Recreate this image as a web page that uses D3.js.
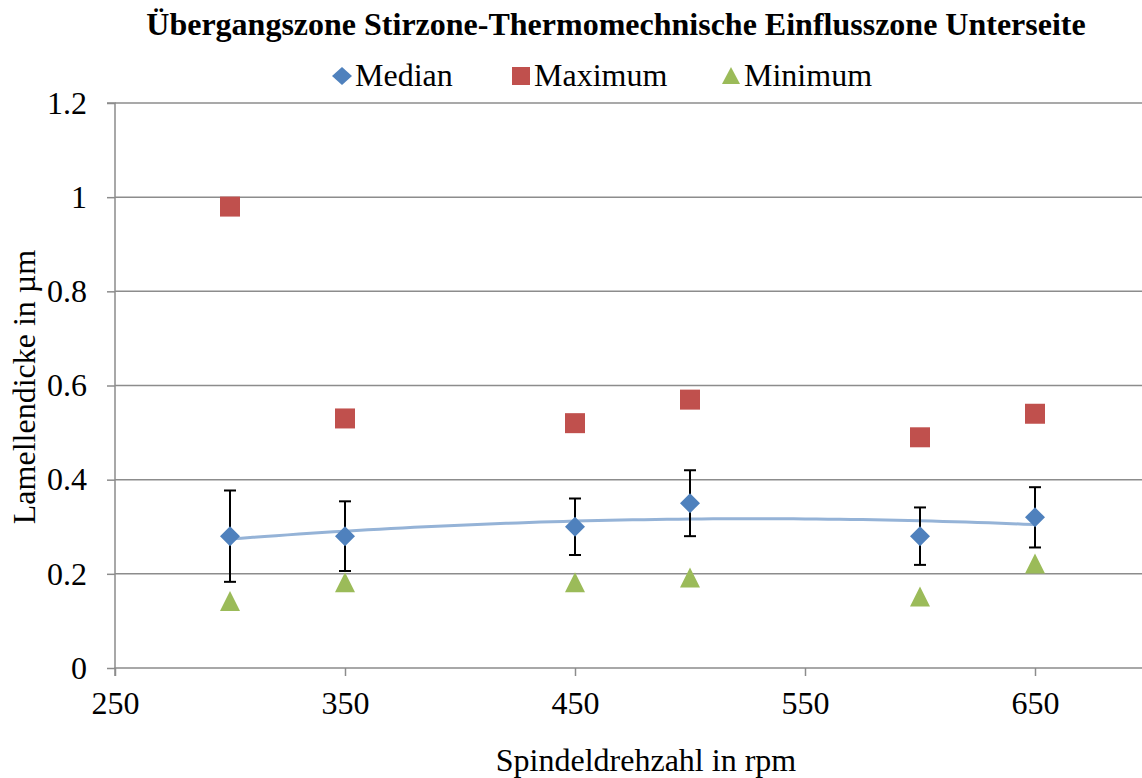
<!DOCTYPE html>
<html>
<head>
<meta charset="utf-8">
<script src="https://cdn.jsdelivr.net/npm/d3@7"></script>
<style>
  body { margin: 0; background: #fff; }
</style>
</head>
<body>
<svg class="svg-main" width="1142" height="778"></svg>
<script>
const rpm = [300, 350, 450, 500, 600, 650];
const median = [0.28, 0.28, 0.30, 0.35, 0.28, 0.32];
const errPlus = [0.097, 0.074, 0.06, 0.07, 0.061, 0.064];
const maximum = [0.98, 0.53, 0.52, 0.57, 0.49, 0.54];
const minimum = [0.14, 0.18, 0.18, 0.19, 0.15, 0.22];
const xTicks = [250, 350, 450, 550, 650];
const yTicks = [0, 0.2, 0.4, 0.6, 0.8, 1, 1.2];

const FONT = "Liberation Serif";
const svg = d3.select('.svg-main');

const x = d3.scaleLinear().domain([250, 700]).range([115, 1150]);
const y = d3.scaleLinear().domain([0, 1.2]).range([668, 103]);

// gridlines
svg.append("g")
  .selectAll("line")
  .data(yTicks.slice(1))
  .enter().append("line")
    .attr("x1", x(250)).attr("x2", x(700))
    .attr("y1", d => y(d)).attr("y2", d => y(d))
    .attr("stroke", "#8c8c8c").attr("stroke-width", 1.5);

// axes
const yAxis = svg.append("g")
  .attr("transform", `translate(${x(250)},0)`)
  .call(d3.axisLeft(y).tickValues(yTicks).tickSize(8).tickPadding(20)
    .tickFormat(d => String(d)));
const xAxis = svg.append("g")
  .attr("transform", `translate(0,${y(0)})`)
  .call(d3.axisBottom(x).tickValues(xTicks).tickSize(8).tickPadding(15)
    .tickFormat(d3.format("d")));

[yAxis, xAxis].forEach(a => {
  a.attr("font-family", FONT).attr("font-size", 32);
  a.select(".domain").attr("stroke", "#8c8c8c").attr("stroke-width", 1.5);
  a.selectAll(".tick line").attr("stroke", "#8c8c8c").attr("stroke-width", 1.5);
  a.selectAll("text").attr("fill", "#000");
});
xAxis.select(".domain").attr("d", `M${x(250)},8V0H${x(700)}`);
yAxis.select(".domain").attr("d", `M-8,${y(1.2)}H0V${y(0)}`);

// polynomial (order 2) trendline of median, least squares
function polyFit(xs, ys) {
  const n = xs.length;
  const s = k => d3.sum(xs, v => Math.pow(v, k));
  const t = k => d3.sum(xs, (v, i) => Math.pow(v, k) * ys[i]);
  const A = [[n, s(1), s(2)], [s(1), s(2), s(3)], [s(2), s(3), s(4)]];
  const b = [t(0), t(1), t(2)];
  for (let i = 0; i < 3; i++) {
    for (let j = i + 1; j < 3; j++) {
      const f = A[j][i] / A[i][i];
      for (let k = i; k < 3; k++) A[j][k] -= f * A[i][k];
      b[j] -= f * b[i];
    }
  }
  const c = [0, 0, 0];
  for (let i = 2; i >= 0; i--) {
    let sum = b[i];
    for (let k = i + 1; k < 3; k++) sum -= A[i][k] * c[k];
    c[i] = sum / A[i][i];
  }
  return v => c[0] + c[1] * v + c[2] * v * v;
}
const trend = polyFit(rpm, median);
const trendPts = d3.range(300, 651, 5);
svg.append("path")
  .datum(trendPts)
  .attr("fill", "none")
  .attr("stroke", "#95b3d7")
  .attr("stroke-width", 3)
  .attr("d", d3.line().x(d => x(d)).y(d => y(trend(d))));

// error bars
const err = svg.append("g").attr("stroke", "#000").attr("stroke-width", 2);
rpm.forEach((r, i) => {
  const cx = x(r);
  const top = y(median[i] + errPlus[i]);
  const bot = y(median[i] - errPlus[i]);
  err.append("line").attr("x1", cx).attr("x2", cx).attr("y1", top).attr("y2", bot);
  err.append("line").attr("x1", cx - 6).attr("x2", cx + 6).attr("y1", top).attr("y2", top);
  err.append("line").attr("x1", cx - 6).attr("x2", cx + 6).attr("y1", bot).attr("y2", bot);
});

const diamond = "M0,-10L10,0L0,10L-10,0Z";
const square = "M-10,-10H10V10H-10Z";
const triangle = "M0,-11L10,9H-10Z";

function markers(values, path, color) {
  svg.append("g")
    .selectAll("path")
    .data(values)
    .enter().append("path")
      .attr("d", path)
      .attr("fill", color)
      .attr("transform", (d, i) => `translate(${x(rpm[i])},${y(d)})`);
}
markers(minimum, triangle, "#9bbb59");
markers(maximum, square, "#c0504d");
markers(median, diamond, "#4f81bd");

// title
svg.append("text")
  .attr("x", 616).attr("y", 35)
  .attr("text-anchor", "middle")
  .attr("font-family", FONT)
  .attr("font-size", 32).attr("font-weight", "bold")
  .text("Übergangszone Stirzone-Thermomechnische Einflusszone Unterseite");

// legend
const legend = [
  { name: "Median", path: "M0,-9L10,0L0,9L-10,0Z", color: "#4f81bd", x: 342 },
  { name: "Maximum", path: "M-9,-9H9V9H-9Z", color: "#c0504d", x: 521 },
  { name: "Minimum", path: "M0,-9L9,8H-9Z", color: "#9bbb59", x: 731 }
];
const lg = svg.append("g").selectAll("g").data(legend).enter().append("g")
  .attr("transform", d => `translate(${d.x},76)`);
lg.append("path").attr("d", d => d.path).attr("fill", d => d.color);
lg.append("text").attr("x", 13).attr("y", 10)
  .attr("font-family", FONT).attr("font-size", 32).text(d => d.name);

// axis titles
svg.append("text")
  .attr("x", 646).attr("y", 771)
  .attr("text-anchor", "middle")
  .attr("font-family", FONT).attr("font-size", 32)
  .text("Spindeldrehzahl in rpm");
svg.append("text")
  .attr("transform", "translate(35,387) rotate(-90)")
  .attr("text-anchor", "middle")
  .attr("font-family", FONT).attr("font-size", 32)
  .text("Lamellendicke in µm");
</script>
</body>
</html>
